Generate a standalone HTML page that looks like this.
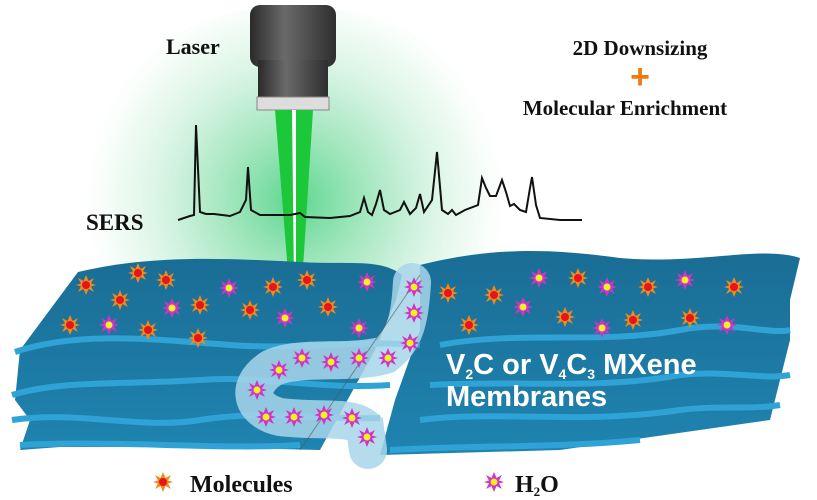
<!DOCTYPE html>
<html><head><meta charset="utf-8"><style>
html,body{margin:0;padding:0;background:#fff;width:817px;height:500px;overflow:hidden}
</style></head><body>
<svg width="817" height="500" viewBox="0 0 817 500" xmlns="http://www.w3.org/2000/svg">
<defs>
<radialGradient id="glow" cx="295" cy="200" r="220" gradientUnits="userSpaceOnUse">
<stop offset="0" stop-color="#3fcf7a" stop-opacity="0.85"/>
<stop offset="0.45" stop-color="#8fe0b0" stop-opacity="0.6"/>
<stop offset="0.8" stop-color="#c8f0d8" stop-opacity="0.3"/>
<stop offset="1" stop-color="#fff" stop-opacity="0"/>
</radialGradient>
<linearGradient id="body" x1="0" x2="1">
<stop offset="0" stop-color="#2a2a2a"/><stop offset="0.4" stop-color="#6a6a6a"/><stop offset="1" stop-color="#2e2e2e"/>
</linearGradient>
<linearGradient id="sheet" x1="0" y1="0" x2="0" y2="1">
<stop offset="0" stop-color="#1a6d95"/><stop offset="1" stop-color="#1f84b0"/>
</linearGradient>
<g id="mol">
<polygon points="0,-10 2.5,-4 8,-7 5,-1.5 10,0 5,1.5 8,7 2.5,4 0,10 -2.5,4 -8,7 -5,1.5 -10,0 -5,-1.5 -8,-7 -2.5,-4" fill="#f08a1a"/>
<circle r="4" fill="#e8141a"/>
</g>
<g id="h2o">
<polygon points="0,-10 2.5,-4 8,-7 5,-1.5 10,0 5,1.5 8,7 2.5,4 0,10 -2.5,4 -8,7 -5,1.5 -10,0 -5,-1.5 -8,-7 -2.5,-4" fill="#d232c8"/>
<circle r="3.5" fill="#f5f020"/>
</g>
</defs>
<ellipse cx="295" cy="205" rx="230" ry="200" fill="url(#glow)"/>
<!-- laser -->
<rect x="250" y="5" width="86" height="62" rx="10" fill="url(#body)"/>
<rect x="258" y="60" width="70" height="37" fill="url(#body)"/>
<rect x="257" y="97" width="72" height="13" fill="#ddd" stroke="#888"/>
<polygon points="275,110 313,110 302,285 289,285" fill="#1cc83a"/>
<polygon points="292,110 296,110 296,285 294,285" fill="#fff"/>
<!-- spectrum -->
<polyline fill="none" stroke="#111" stroke-width="2" points="178,220 190,216 194,215 196,125 200,212 206,214 214,214 230,216 240,212 246,200 248,167 251,210 260,215 290,215 300,213 305,217 330,218 350,216 360,212 364,198 368,212 372,215 376,204 380,190 384,210 390,214 400,210 404,202 410,214 416,208 420,194 424,212 432,200 437,152 442,210 448,214 452,210 456,215 465,210 478,205 482,178 486,188 490,196 496,196 502,180 506,192 510,206 514,204 520,210 526,212 530,188 532,177 536,205 540,218 560,220 582,220"/>
<!-- left stack -->
<path d="M78,272 C150,255 220,258 300,262 C350,265 380,258 402,275 L396,300 L375,350 L320,450 L200,447 L60,447 L20,450 L30,420 L15,400 L20,350 Z" fill="url(#sheet)"/>
<!-- right stack -->
<path d="M420,265 C500,245 560,250 620,258 C700,265 760,245 800,258 L790,300 L790,340 L770,420 L560,450 L380,455 L395,400 L420,330 Z" fill="url(#sheet)"/>
<g fill="none" stroke="#2fa3d6" stroke-width="6">
<path d="M15,352 C80,330 160,340 230,345 C300,350 360,340 420,345"/>
<path d="M12,395 C60,380 120,385 200,380 C260,375 320,390 390,385"/>
<path d="M12,420 C80,410 140,430 200,420 C260,410 320,420 380,418"/>
<path d="M20,445 C120,440 220,450 300,445"/>
<path d="M440,345 C520,330 600,345 680,330 C730,320 770,335 790,330"/>
<path d="M430,385 C520,380 600,390 680,375 C730,370 760,380 790,375"/>
<path d="M420,420 C500,410 580,425 680,410 C720,405 750,410 780,405"/>
<path d="M390,450 C480,445 560,448 640,440"/>
</g>
<!-- channel -->
<path d="M412,282 C410,320 405,340 385,355 C350,365 300,355 272,368 C245,385 250,410 280,417 C320,422 350,415 365,428 L368,450" fill="none" stroke="#a8d6ea" stroke-width="38" stroke-opacity="0.85" stroke-linecap="round"/>
<line x1="420" y1="275" x2="300" y2="450" stroke="#555" stroke-width="1" opacity="0.6"/>
<!-- molecules -->
<g>
<use href="#mol" x="86" y="285"/><use href="#mol" x="138" y="273"/><use href="#mol" x="166" y="280"/>
<use href="#mol" x="120" y="300"/><use href="#mol" x="200" y="305"/><use href="#mol" x="70" y="325"/>
<use href="#mol" x="148" y="330"/><use href="#mol" x="198" y="338"/><use href="#mol" x="250" y="310"/>
<use href="#mol" x="273" y="287"/><use href="#mol" x="307" y="280"/><use href="#mol" x="328" y="307"/>
<use href="#mol" x="448" y="293"/><use href="#mol" x="494" y="295"/><use href="#mol" x="469" y="325"/>
<use href="#mol" x="578" y="278"/><use href="#mol" x="648" y="287"/><use href="#mol" x="734" y="287"/>
<use href="#mol" x="565" y="317"/><use href="#mol" x="633" y="320"/><use href="#mol" x="690" y="318"/>
<use href="#h2o" x="229" y="288"/><use href="#h2o" x="172" y="308"/><use href="#h2o" x="109" y="325"/>
<use href="#h2o" x="285" y="318"/><use href="#h2o" x="367" y="282"/><use href="#h2o" x="359" y="328"/>
<use href="#h2o" x="414" y="287"/><use href="#h2o" x="414" y="313"/><use href="#h2o" x="410" y="343"/>
<use href="#h2o" x="388" y="358"/><use href="#h2o" x="359" y="358"/><use href="#h2o" x="331" y="362"/>
<use href="#h2o" x="302" y="358"/><use href="#h2o" x="279" y="370"/><use href="#h2o" x="257" y="390"/>
<use href="#h2o" x="266" y="417"/><use href="#h2o" x="294" y="417"/><use href="#h2o" x="324" y="415"/>
<use href="#h2o" x="352" y="418"/><use href="#h2o" x="367" y="437"/>
<use href="#h2o" x="539" y="278"/><use href="#h2o" x="607" y="287"/><use href="#h2o" x="685" y="280"/>
<use href="#h2o" x="523" y="307"/><use href="#h2o" x="602" y="328"/><use href="#h2o" x="727" y="325"/>
<use href="#mol" x="163" y="482"/><use href="#h2o" x="494" y="482"/>
</g>
<!-- text -->
<g font-family="Liberation Serif, serif" font-weight="bold" fill="#111">
<text x="166" y="54" font-size="22">Laser</text>
<text x="86" y="230" font-size="23">SERS</text>
<text x="640" y="55" font-size="21" text-anchor="middle">2D Downsizing</text>
<text x="625" y="115" font-size="21" text-anchor="middle">Molecular Enrichment</text>
<text x="190" y="492" font-size="24">Molecules</text>
<text x="515" y="492" font-size="24">H<tspan font-size="13" dy="4">2</tspan><tspan dy="-4">O</tspan></text>
</g>
<text x="640" y="88" font-family="Liberation Sans, sans-serif" font-weight="bold" font-size="34" fill="#f07a10" text-anchor="middle">+</text>
<g font-family="Liberation Sans, sans-serif" font-weight="bold" fill="#fff" font-size="29">
<text x="446" y="374">V<tspan font-size="14" dy="5">2</tspan><tspan dy="-5">C or V</tspan><tspan font-size="14" dy="5">4</tspan><tspan dy="-5">C</tspan><tspan font-size="14" dy="5">3</tspan><tspan dy="-5"> MXene</tspan></text>
<text x="446" y="406">Membranes</text>
</g>
</svg>
</body></html>
